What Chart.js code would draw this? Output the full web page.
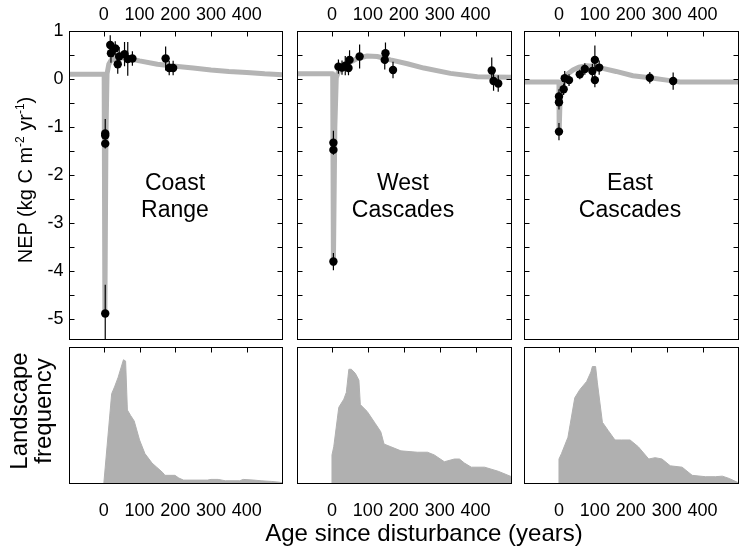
<!DOCTYPE html>
<html>
<head>
<meta charset="utf-8">
<script src="https://cdn.jsdelivr.net/npm/chart.js@4.4.1/dist/chart.umd.min.js"></script>
<style>
  body { margin: 0; background: #fff; }
  #wrap { position: relative; width: 743px; height: 554px; font-family: "Liberation Sans", Arial, sans-serif; color: #000; }
  #wrap canvas { position: absolute; left: 0; top: 0; }
  .rot { position: absolute; white-space: nowrap; transform: translate(-50%, -50%) rotate(-90deg); text-align: center; }
  .name { position: absolute; transform: translateX(-50%); text-align: center; font-size: 23px; line-height: 26.5px; white-space: nowrap; }
  sup { font-size: 0.6em; vertical-align: super; line-height: 0; }
</style>
</head>
<body>
<div id="wrap">
  <canvas id="nep-coast" width="743" height="554"></canvas>
  <canvas id="nep-west" width="743" height="554"></canvas>
  <canvas id="nep-east" width="743" height="554"></canvas>
  <canvas id="freq-coast" width="743" height="554"></canvas>
  <canvas id="freq-west" width="743" height="554"></canvas>
  <canvas id="freq-east" width="743" height="554"></canvas>

  <div class="rot" style="left:25px; top:180px; font-size:20px;">NEP (kg C m<sup>-2</sup> yr<sup>-1</sup>)</div>
  <div class="rot" style="left:31px; top:411px; font-size:24px; line-height:24px;">Landscape<br>frequency</div>
  <div class="name" style="left:175px; top:169px;">Coast<br>Range</div>
  <div class="name" style="left:403px; top:169px;">West<br>Cascades</div>
  <div class="name" style="left:630px; top:169px;">East<br>Cascades</div>
  <div style="position:absolute; left:424px; top:521px; transform:translateX(-50%); font-size:24px; line-height:24px; white-space:nowrap;">Age since disturbance (years)</div>
</div>

<script>
// tick labels
const ageTicks = [0, 100, 200, 300, 400];
const nepTicks = [1, 0, -1, -2, -3, -4, -5];
const nepTickMarks = [1, 0.5, 0, -0.5, -1, -1.5, -2, -2.5, -3, -3.5, -4, -4.5, -5];

// modelled NEP curves (grey line)
const coastCurveAge = [-96, 1, 3, 6, 9, 14, 20, 40, 70, 100, 150, 200, 250, 300, 350, 400, 450, 500];
const coastCurveNep = [0.09, 0.09, -4.88, -1.2, 0.1, 0.3, 0.38, 0.44, 0.42, 0.37, 0.3, 0.26, 0.22, 0.18, 0.15, 0.13, 0.1, 0.08];
const westCurveAge = [-96, 2, 4, 8, 12, 18, 40, 70, 98, 126, 163, 210, 256, 330, 405, 500];
const westCurveNep = [0.1, 0.1, -3.85, -1.0, 0.02, 0.15, 0.3, 0.42, 0.47, 0.46, 0.39, 0.31, 0.22, 0.11, 0.04, 0.03];
const eastCurveAge = [-96, 0, 0.5, 3, 8, 15, 25, 39, 55, 77, 95, 113, 159, 206, 253, 300, 337, 500];
const eastCurveNep = [-0.07, -0.07, -1.1, -0.45, -0.15, 0.0, 0.1, 0.18, 0.24, 0.27, 0.26, 0.23, 0.15, 0.06, 0.02, -0.03, -0.07, -0.07];

// measured NEP (black points with error bars)
const coastAge = [4, 4, 4, 4, 18, 20, 32, 39, 43, 58, 67, 80, 173, 183, 194];
const coastNep = [-1.14, -1.18, -1.35, -4.88, 0.70, 0.53, 0.63, 0.30, 0.46, 0.51, 0.41, 0.42, 0.42, 0.22, 0.22];
const coastErr = [0.3, 0.1, 0.1, 0.6, 0.2, 0.2, 0.15, 0.2, 0.2, 0.25, 0.35, 0.15, 0.25, 0.15, 0.15];
const westAge = [4, 4, 4, 18, 28, 37, 46, 49, 77, 147, 149, 170, 445, 450, 463];
const westNep = [-1.33, -1.48, -3.80, 0.25, 0.23, 0.27, 0.22, 0.39, 0.46, 0.39, 0.53, 0.18, 0.17, -0.05, -0.10];
const westErr = [0.25, 0.1, 0.18, 0.15, 0.15, 0.2, 0.15, 0.2, 0.25, 0.2, 0.22, 0.17, 0.27, 0.2, 0.17];
const eastAge = [0, 0, 0, 13, 16, 28, 58, 72, 93, 100, 100, 112, 253, 318];
const eastNep = [-1.10, -0.49, -0.37, -0.22, 0.01, -0.03, 0.09, 0.20, 0.16, 0.39, -0.03, 0.23, 0.02, -0.05];
const eastErr = [0.18, 0.15, 0.15, 0.12, 0.15, 0.12, 0.1, 0.12, 0.15, 0.3, 0.15, 0.15, 0.12, 0.18];

// landscape age frequency (relative)
const coastFreqAge = [0, 22, 30, 40, 48, 55, 61, 66, 75, 85, 100, 115, 135, 148, 165, 171, 199, 210, 223, 290, 300, 320, 340, 380, 390, 420, 440, 470, 490, 500];
const coastFreq = [0, 0.66, 0.71, 0.78, 0.85, 0.91, 0.90, 0.54, 0.50, 0.46, 0.32, 0.22, 0.15, 0.12, 0.08, 0.06, 0.06, 0.04, 0.025, 0.025, 0.03, 0.03, 0.02, 0.02, 0.03, 0.025, 0.02, 0.015, 0.01, 0.005];
const westFreqAge = [0, 0, 5, 19, 33, 40, 47, 54, 65, 75, 79, 98, 121, 136, 145, 164, 192, 238, 266, 285, 313, 341, 355, 369, 388, 425, 463, 500];
const westFreq = [0, 0.21, 0.27, 0.56, 0.62, 0.67, 0.84, 0.84, 0.81, 0.76, 0.58, 0.53, 0.44, 0.38, 0.29, 0.27, 0.24, 0.23, 0.23, 0.21, 0.16, 0.18, 0.18, 0.15, 0.12, 0.12, 0.09, 0.05];
const eastFreqAge = [0, 0, 7, 25, 44, 58, 77, 89, 93, 102, 107, 121, 137, 156, 175, 198, 221, 250, 268, 287, 310, 343, 371, 408, 436, 455, 474, 500];
const eastFreq = [0, 0.18, 0.22, 0.34, 0.63, 0.69, 0.75, 0.82, 0.86, 0.86, 0.74, 0.45, 0.39, 0.32, 0.32, 0.32, 0.27, 0.18, 0.19, 0.18, 0.13, 0.12, 0.06, 0.05, 0.05, 0.054, 0.037, 0.005];

const W = 743, H = 554;
const cols = [[69.5, 282.5], [297.5, 511.5], [524.5, 738.5]];
const topRow = [31.5, 339.5];
const botRow = [347.5, 483.5];
const FONT = '18px "Liberation Sans", Arial, sans-serif';

const toXY = (xs, ys) => xs.map((x, i) => ({ x, y: ys[i] }));

const framePlugin = {
  id: 'frame',
  afterDraw(chart, args, opts) {
    const { ctx, chartArea: a, scales: { x, y } } = chart;
    ctx.save();
    ctx.strokeStyle = '#000';
    ctx.lineWidth = 1;
    ctx.strokeRect(a.left, a.top, a.right - a.left, a.bottom - a.top);
    ctx.beginPath();
    ageTicks.forEach(v => {
      const px = Math.round(x.getPixelForValue(v)) + 0.5;
      ctx.moveTo(px, a.top);
      ctx.lineTo(px, a.top + 5);
    });
    if (opts.nepTicks) {
      nepTickMarks.forEach(v => {
        const py = Math.round(y.getPixelForValue(v)) + 0.5;
        if (py < a.top || py > a.bottom) return;
        ctx.moveTo(a.left, py); ctx.lineTo(a.left + 5, py);
        ctx.moveTo(a.right, py); ctx.lineTo(a.right - 5, py);
      });
    }
    ctx.stroke();

    ctx.fillStyle = '#000';
    ctx.font = FONT;
    ctx.textAlign = 'center';
    ctx.textBaseline = 'middle';
    const ly = opts.below ? a.bottom + 28 : a.top - 16;
    ageTicks.forEach(v => ctx.fillText(String(v), x.getPixelForValue(v), ly));
    if (opts.nepLabels) {
      ctx.textAlign = 'right';
      nepTicks.forEach(v => ctx.fillText(String(v), a.left - 6, y.getPixelForValue(v)));
    }
    ctx.restore();
  }
};

const errPlugin = {
  id: 'errbars',
  afterDatasetsDraw(chart, args, opts) {
    if (!opts.age) return;
    const { ctx, chartArea: a, scales: { x, y } } = chart;
    ctx.save();
    ctx.beginPath();
    ctx.rect(a.left, a.top, a.right - a.left, a.bottom - a.top);
    ctx.clip();
    ctx.strokeStyle = '#000';
    ctx.lineWidth = 1.2;
    ctx.beginPath();
    opts.age.forEach((v, i) => {
      const px = x.getPixelForValue(v);
      ctx.moveTo(px, y.getPixelForValue(opts.nep[i] + opts.err[i]));
      ctx.lineTo(px, y.getPixelForValue(opts.nep[i] - opts.err[i]));
    });
    ctx.stroke();
    ctx.restore();
  }
};

function baseOptions(col, row, yMin, yMax, frame, err) {
  return {
    responsive: false,
    animation: false,
    devicePixelRatio: 1,
    events: [],
    layout: { padding: { left: col[0], right: W - col[1], top: row[0], bottom: H - row[1] } },
    plugins: { legend: { display: false }, tooltip: { enabled: false }, frame, errbars: err || {} },
    scales: {
      x: { type: 'linear', min: -96, max: 500, display: false },
      y: { type: 'linear', min: yMin, max: yMax, display: false }
    }
  };
}

function nepPanel(id, col, curveAge, curveNep, age, nep, err, withLabels) {
  new Chart(document.getElementById(id), {
    type: 'line',
    data: {
      datasets: [
        { data: toXY(age, nep), showLine: false, pointRadius: 4.2, pointBackgroundColor: '#000', pointBorderWidth: 0, order: 0 },
        { data: toXY(curveAge, curveNep), borderColor: '#b4b4b4', borderWidth: 5, borderJoinStyle: 'round', pointRadius: 0, tension: 0, order: 1 }
      ]
    },
    options: baseOptions(col, topRow, -5.42, 0.98, { nepTicks: true, nepLabels: withLabels }, { age, nep, err }),
    plugins: [framePlugin, errPlugin]
  });
}

function freqPanel(id, col, age, freq) {
  new Chart(document.getElementById(id), {
    type: 'line',
    data: {
      datasets: [
        { data: toXY(age, freq), fill: 'origin', backgroundColor: '#b0b0b0', borderColor: '#b0b0b0', borderWidth: 1, pointRadius: 0, tension: 0 }
      ]
    },
    options: baseOptions(col, botRow, 0, 1, { below: true }),
    plugins: [framePlugin, errPlugin]
  });
}

nepPanel('nep-coast', cols[0], coastCurveAge, coastCurveNep, coastAge, coastNep, coastErr, true);
nepPanel('nep-west', cols[1], westCurveAge, westCurveNep, westAge, westNep, westErr, false);
nepPanel('nep-east', cols[2], eastCurveAge, eastCurveNep, eastAge, eastNep, eastErr, false);
freqPanel('freq-coast', cols[0], coastFreqAge, coastFreq);
freqPanel('freq-west', cols[1], westFreqAge, westFreq);
freqPanel('freq-east', cols[2], eastFreqAge, eastFreq);
</script>
</body>
</html>
